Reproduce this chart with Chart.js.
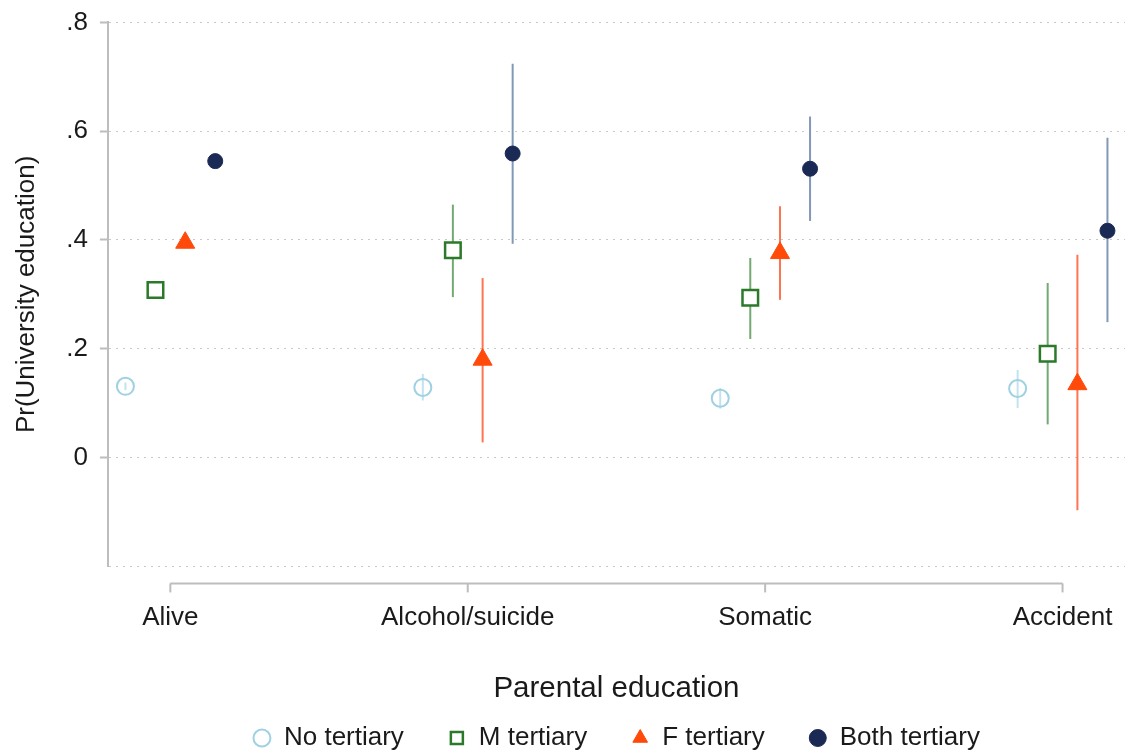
<!DOCTYPE html>
<html>
<head>
<meta charset="utf-8">
<script src="https://cdn.jsdelivr.net/npm/chart.js@4.4.1/dist/chart.umd.min.js"></script>
<style>
  body { margin: 0; background: #fff; }
  canvas { display: block; }
</style>
</head>
<body>
<canvas id="chart" width="1125" height="751"></canvas>
<script>
// Categories on the x axis
const categories = ["Alive", "Alcohol/suicide", "Somatic", "Accident"];
const seriesNames = ["No tertiary", "M tertiary", "F tertiary", "Both tertiary"];

// Point estimates, one array per parental education group
const noTertiary   = [0.131, 0.129, 0.109, 0.127];
const mTertiary    = [0.308, 0.381, 0.294, 0.191];
const fTertiary    = [0.395, 0.180, 0.376, 0.135];
const bothTertiary = [0.545, 0.559, 0.531, 0.417];

// Confidence interval bounds
const noLo   = [0.124, 0.105, 0.090, 0.091];
const noHi   = [0.138, 0.154, 0.128, 0.161];
const mLo    = [0.298, 0.295, 0.218, 0.061];
const mHi    = [0.318, 0.465, 0.367, 0.321];
const fLo    = [0.385, 0.028, 0.290, -0.097];
const fHi    = [0.405, 0.330, 0.462, 0.373];
const bothLo = [0.537, 0.393, 0.435, 0.249];
const bothHi = [0.553, 0.724, 0.627, 0.588];

// Y tick values
const yTicks = [-0.2, 0, 0.2, 0.4, 0.6, 0.8];

document.addEventListener("DOMContentLoaded", function () {
    const FONT = "'Liberation Sans', Arial, sans-serif";
    const TEXT = "#1a1a1a";
    const offsets = [-0.151, -0.05, 0.05, 0.151];

    function makeSet(i, values, lo, hi, style) {
        return Object.assign({
            label: seriesNames[i],
            data: values.map((v, k) => ({ x: k + 1 + offsets[i], y: v })),
            lo: lo,
            hi: hi,
            showLine: false
        }, style);
    }

    const datasets = [
        makeSet(0, noTertiary, noLo, noHi, {
            pointStyle: "circle", pointRadius: 8.5, borderWidth: 2,
            borderColor: "#9fd1e3", backgroundColor: "rgba(255,255,255,0)", errColor: "#c2e3ee"
        }),
        makeSet(1, mTertiary, mLo, mHi, {
            pointStyle: "rect", pointRadius: 11, borderWidth: 2.5,
            borderColor: "#2a7a2a", backgroundColor: "#ffffff", errColor: "#72aa72"
        }),
        makeSet(2, fTertiary, fLo, fHi, {
            pointStyle: "triangle", pointRadius: 11, borderWidth: 1,
            borderColor: "#ff4a0a", backgroundColor: "#ff4a0a", errColor: "#ff7450"
        }),
        makeSet(3, bothTertiary, bothLo, bothHi, {
            pointStyle: "circle", pointRadius: 7.5, borderWidth: 1,
            borderColor: "#1b2a55", backgroundColor: "#1b2a55", errColor: "#8398b8"
        })
    ];

    // Vertical confidence interval lines, drawn under the markers
    const errorBars = {
        id: "errorBars",
        beforeDatasetsDraw(chart) {
            const ctx = chart.ctx;
            const yScale = chart.scales.y;
            chart.data.datasets.forEach((ds, i) => {
                const meta = chart.getDatasetMeta(i);
                ctx.save();
                ctx.strokeStyle = ds.errColor;
                ctx.lineWidth = 2;
                meta.data.forEach((pt, k) => {
                    ctx.beginPath();
                    ctx.moveTo(pt.x, yScale.getPixelForValue(ds.lo[k]));
                    ctx.lineTo(pt.x, yScale.getPixelForValue(ds.hi[k]));
                    ctx.stroke();
                });
                ctx.restore();
            });
        }
    };

    // Stata style x axis: a line from first to last category with tick marks
    const xBracket = {
        id: "xBracket",
        afterDraw(chart) {
            const ctx = chart.ctx;
            const xScale = chart.scales.x;
            const y0 = chart.chartArea.bottom + 17;
            const x1 = xScale.getPixelForValue(1);
            const x2 = xScale.getPixelForValue(categories.length);
            ctx.save();
            ctx.strokeStyle = "#bdbdbd";
            ctx.lineWidth = 2;
            ctx.beginPath();
            ctx.moveTo(x1, y0);
            ctx.lineTo(x2, y0);
            ctx.stroke();
            categories.forEach((c, k) => {
                const x = xScale.getPixelForValue(k + 1);
                ctx.beginPath();
                ctx.moveTo(x, y0);
                ctx.lineTo(x, y0 + 9);
                ctx.stroke();
            });
            ctx.restore();
        }
    };

    new Chart(document.getElementById("chart").getContext("2d"), {
        type: "scatter",
        data: { datasets: datasets },
        options: {
            responsive: false,
            animation: false,
            layout: { autoPadding: false, padding: { left: 11, right: 0, top: 1.4, bottom: -10 } },
            plugins: {
                legend: {
                    position: "bottom",
                    fullSize: false,
                    labels: {
                        usePointStyle: true,
                        boxWidth: 18,
                        boxHeight: 12,
                        padding: 44,
                        color: TEXT,
                        font: { family: FONT, size: 26 }
                    }
                },
                tooltip: { enabled: false }
            },
            scales: {
                x: {
                    type: "linear",
                    min: 0.79,
                    max: 4.21,
                    afterBuildTicks(scale) {
                        scale.ticks = categories.map((c, k) => ({ value: k + 1 }));
                    },
                    ticks: {
                        autoSkip: false,
                        maxRotation: 0,
                        padding: 4,
                        color: TEXT,
                        font: { family: FONT, size: 26 },
                        callback: (v) => categories[v - 1]
                    },
                    grid: { display: false, drawTicks: true, tickLength: 32 },
                    border: { display: false },
                    title: {
                        display: true,
                        text: "Parental education",
                        color: TEXT,
                        font: { family: FONT, size: 29.5 },
                        padding: { top: 34, bottom: -26 }
                    }
                },
                y: {
                    min: -0.2,
                    max: 0.8,
                    afterBuildTicks(scale) {
                        scale.ticks = yTicks.map(v => ({ value: v }));
                    },
                    ticks: {
                        padding: 12,
                        color: TEXT,
                        font: { family: FONT, size: 26, lineHeight: 0.8 },
                        callback: (v) => {
                            if (v < -0.1) return "";
                            if (Math.abs(v) < 1e-9) return "0";
                            return String(Math.round(v * 10) / 10).replace(/^0/, "");
                        }
                    },
                    grid: {
                        color: "#c8c8c8",
                        lineWidth: 1,
                        tickLength: 8,
                        tickWidth: 2,
                        tickColor: (ctx) => ctx.tick && ctx.tick.value < -0.1 ? "rgba(0,0,0,0)" : "#bdbdbd"
                    },
                    border: { display: true, color: "#bdbdbd", width: 2, dash: [2, 5] },
                    title: {
                        display: true,
                        text: "Pr(University education)",
                        color: TEXT,
                        font: { family: FONT, size: 26 },
                        padding: { top: 0, bottom: 12 }
                    }
                }
            }
        },
        plugins: [errorBars, xBracket]
    });
});
</script>
</body>
</html>
